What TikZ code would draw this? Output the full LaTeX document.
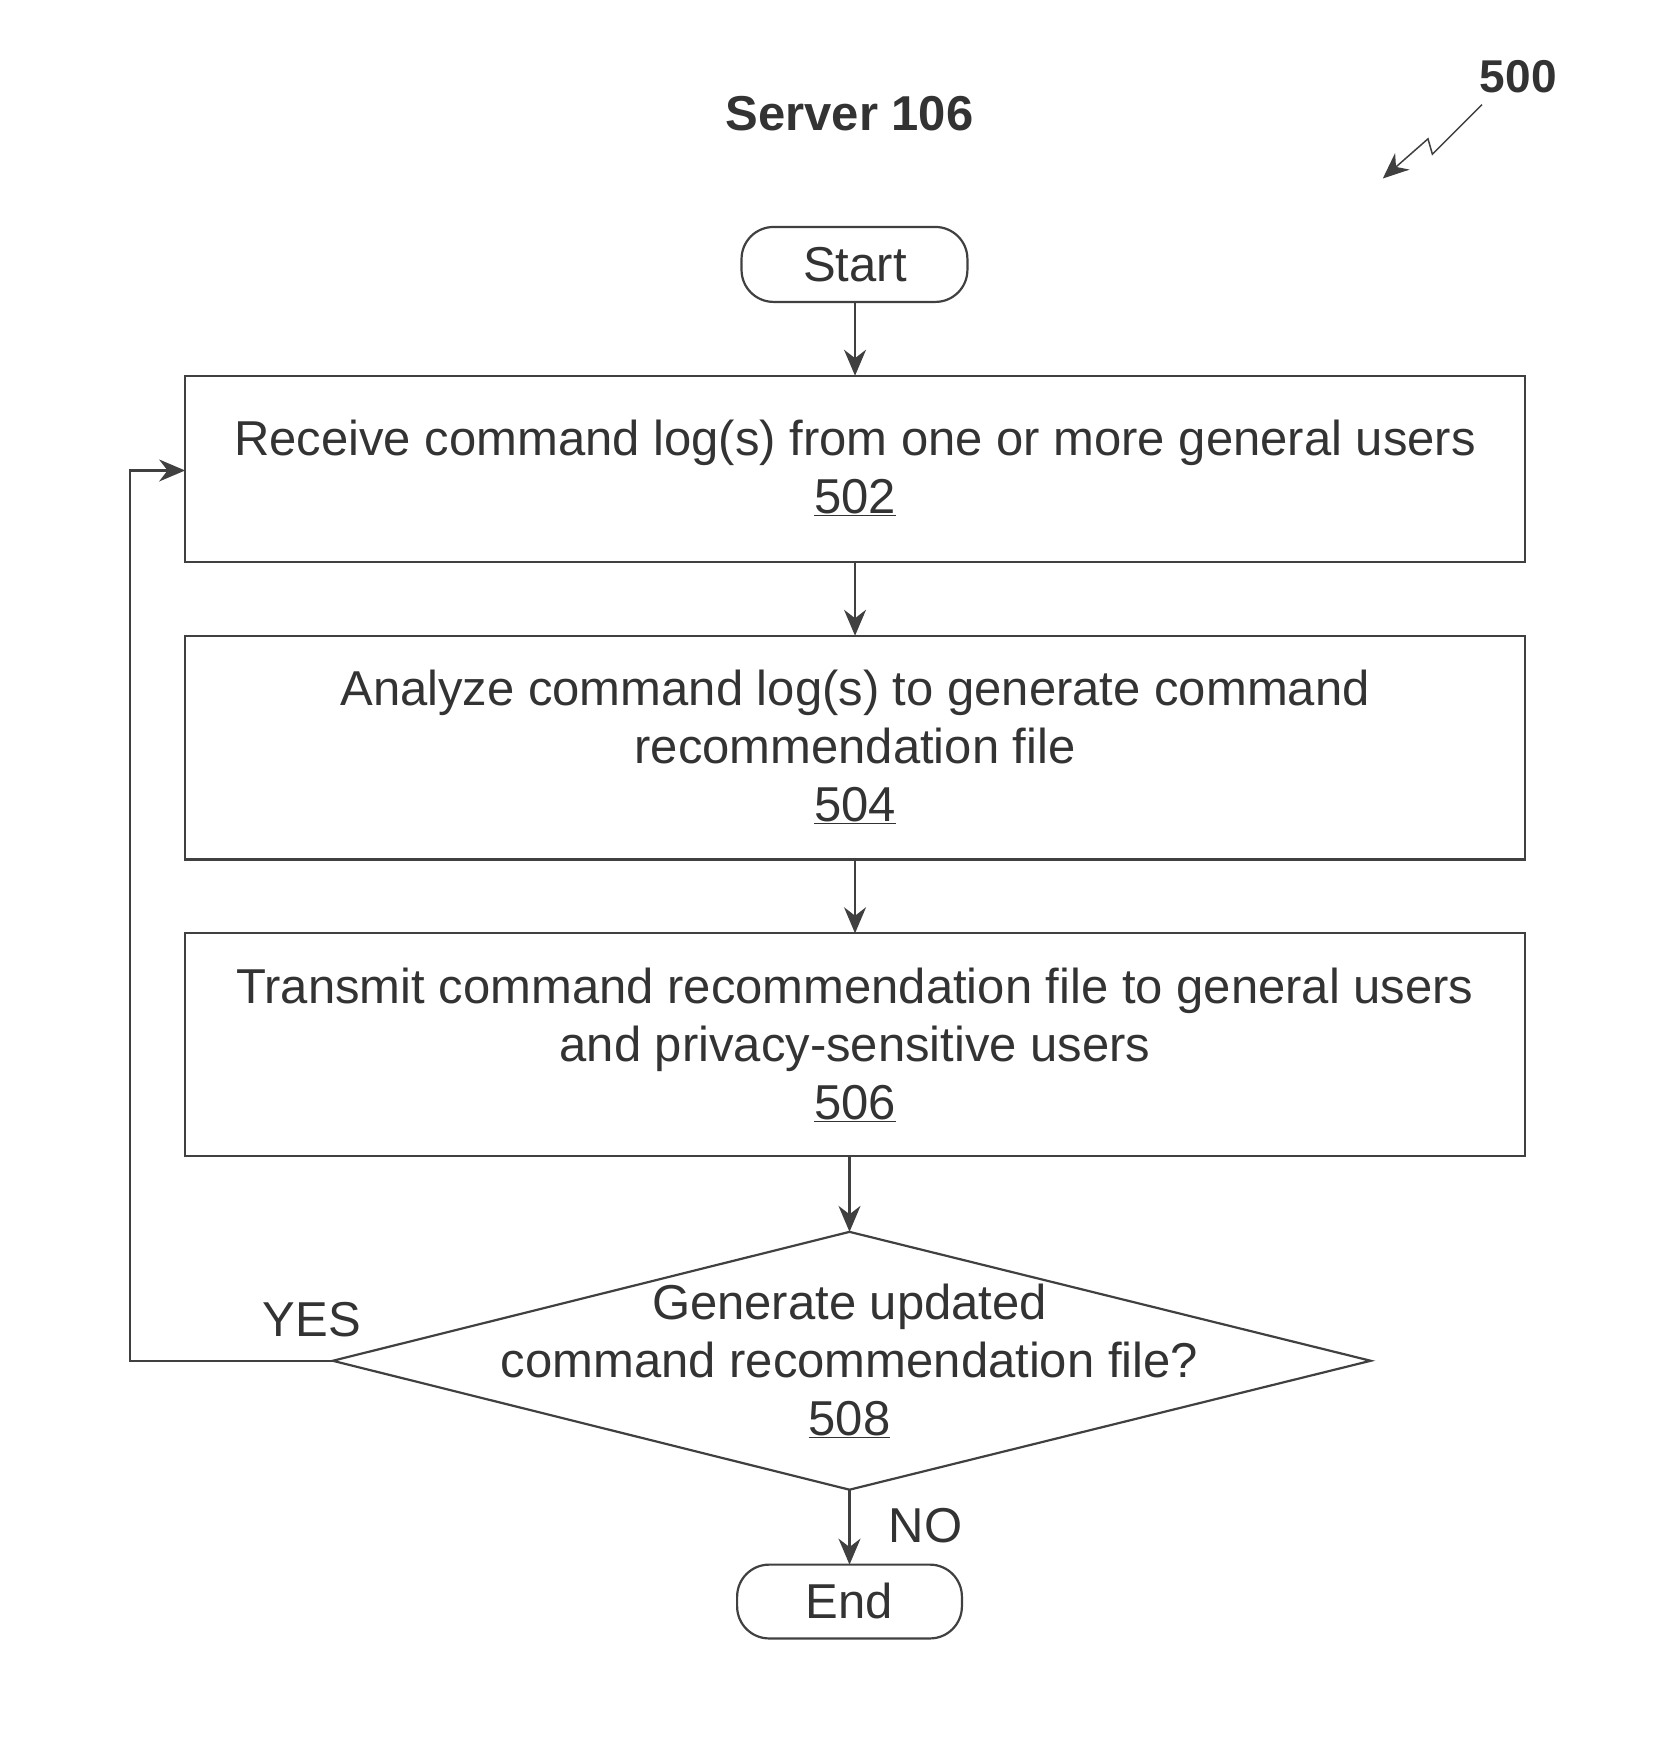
\documentclass[tikz,border=0pt]{standalone}
\usepackage{fontspec}
\setmainfont{Liberation Sans}
\usetikzlibrary{shapes.geometric,arrows.meta}
\begin{document}
\begin{tikzpicture}[x=1.102pt,y=-1.102pt,
  every node/.style={font=\fontsize{49}{58}\selectfont, text=black!80},
  box/.style={draw=black!75,line width=2.2pt},
  arr/.style={draw=black!75,line width=2.2pt,-{Stealth[length=26pt,width=22pt]}},
  term/.style={draw=black!75,line width=2.2pt,rounded corners=32pt}]
\useasboundingbox (0,0) rectangle (1500,1581);
\node[font=\fontsize{49}{50}\selectfont\bfseries] (title) at (771,103) {Server 106};
\node[font=\fontsize{46}{50}\selectfont\bfseries] (num) at (1378,70) {500};
\coordinate (z1) at (1345,95); \coordinate (z2) at (1255,162);
\draw[arr,line width=1.5pt] (z1) -- (1300,140) -- (1296,126) -- (z2);
\draw[term] (673,206) rectangle (878,274); \node (start) at (776,240) {Start};
\coordinate (startb) at (776,274);
\draw[box] (168,341) rectangle (1384,510);
\node[align=center] (b502) at (776,425) {Receive command log(s) from one or more general users\\\underline{502}};
\draw[box] (168,577) rectangle (1384,780);
\node[align=center] (b504) at (776,678) {Analyze command log(s) to generate command\\recommendation file\\\underline{504}};
\draw[box] (168,847) rectangle (1384,1049);
\node[align=center] (b506) at (776,948) {Transmit command recommendation file to general users\\and privacy-sensitive users\\\underline{506}};
\draw[box] (302,1235) -- (771,1118) -- (1244,1235) -- (771,1352) -- cycle;
\node[align=center] (d508) at (771,1235) {Generate updated\\command recommendation file?\\\underline{508}};
\draw[term] (669,1420) rectangle (873,1487); \node (end) at (771,1453) {End};
\draw[arr] (startb) -- (776,341);
\draw[arr] (776,510) -- (776,577);
\draw[arr] (776,780) -- (776,847);
\draw[arr] (771,1049) -- (771,1118);
\draw[arr] (771,1352) -- (771,1420);
\draw[arr] (302,1235) -- (118,1235) -- (118,427) -- (168,427);
\node (yes) at (283,1198) {YES};
\node (no) at (840,1385) {NO};
\end{tikzpicture}
\end{document}
